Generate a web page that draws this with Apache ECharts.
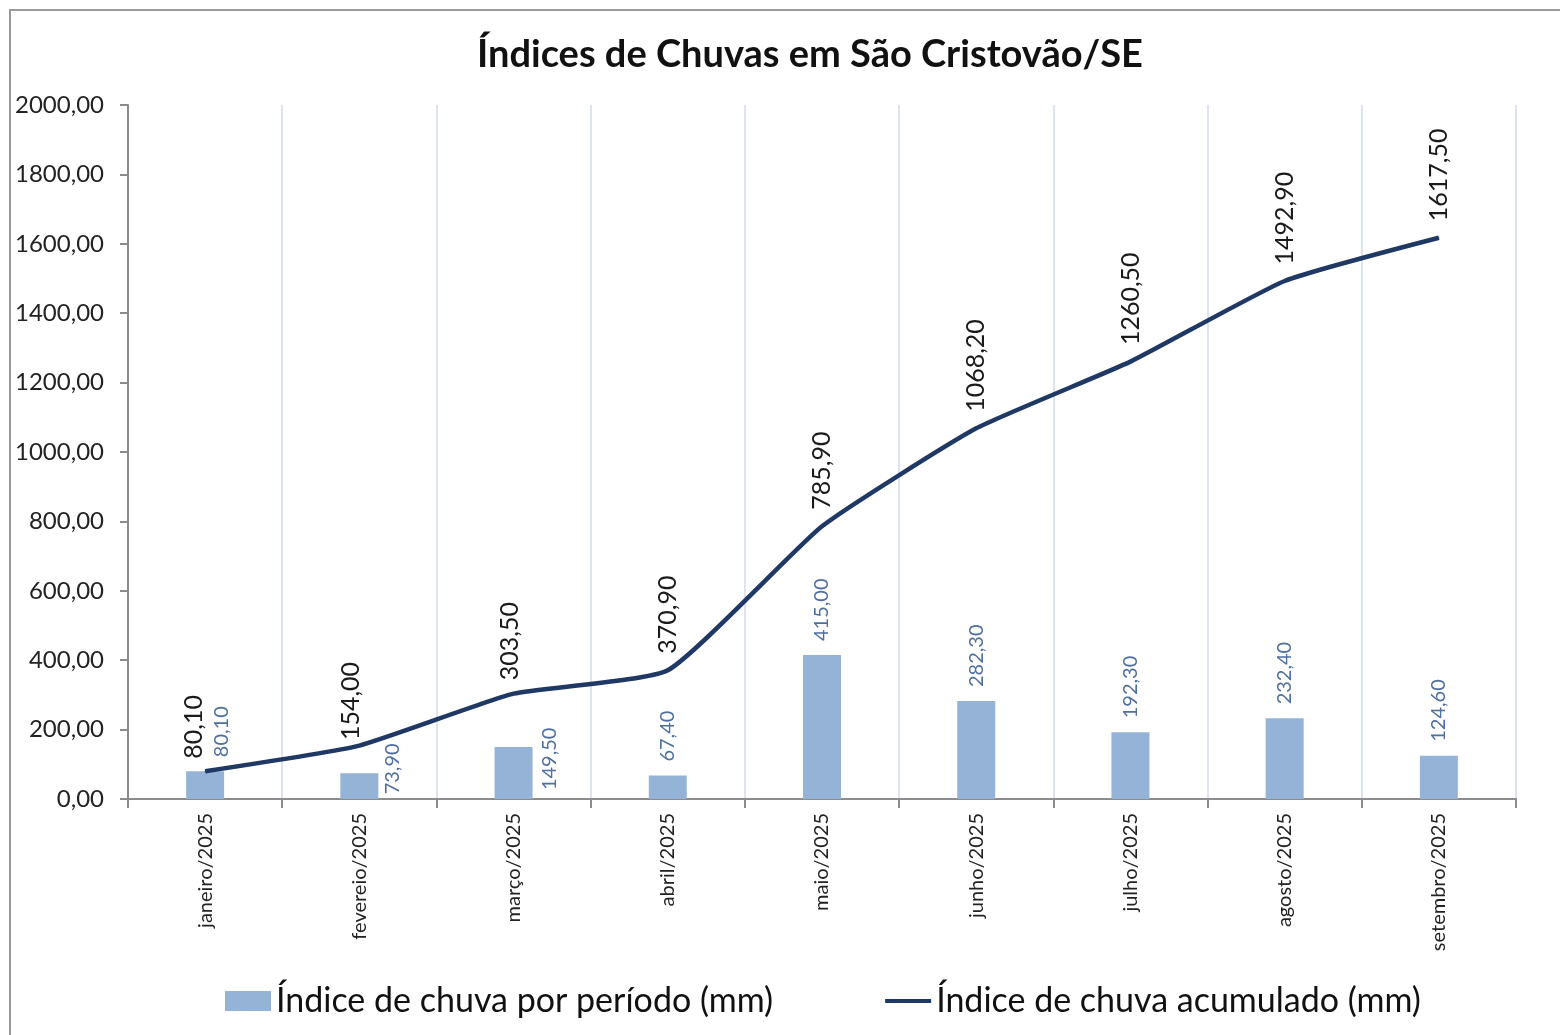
<!DOCTYPE html>
<html>
<head>
<meta charset="utf-8">
<script src="https://cdn.jsdelivr.net/npm/echarts@6/dist/echarts.min.js"></script>
<style>
  html, body { margin: 0; padding: 0; background: #fff; }
  #chart { width: 1560px; height: 1035px; }
</style>
</head>
<body>
<div id="chart"></div>
<script>
// dados
const meses = ['janeiro/2025', 'fevereio/2025', 'março/2025', 'abril/2025', 'maio/2025',
  'junho/2025', 'julho/2025', 'agosto/2025', 'setembro/2025'];
const chuvaPeriodo = [80.10, 73.90, 149.50, 67.40, 415.00, 282.30, 192.30, 232.40, 124.60];
const chuvaAcumulada = [80.10, 154.00, 303.50, 370.90, 785.90, 1068.20, 1260.50, 1492.90, 1617.50];

const fonte = 'Lato, "Open Sans", sans-serif';
const fmt = v => Number(v).toFixed(2).replace('.', ',');

// rótulos deslocados (como o Excel fez nos primeiros meses, para não sobrepor)
// offset é no sistema do texto girado 90°: [-dy, dx] em coordenadas de tela
const ajusteBarra = { 0: [0, 16], 1: [-35, 33], 2: [-57, 36] };
const ajusteLinha = { 0: [-4, -11], 1: [-11, -8], 2: [-3, -4] };

const myChart = echarts.init(document.getElementById('chart'));

const option = {
  backgroundColor: '#fff',
  textStyle: { fontFamily: fonte },
  title: {
    text: 'Índices de Chuvas em São Cristovão/SE',
    left: 472,
    top: 31,
    textStyle: { fontSize: 38, fontWeight: 'bold', color: '#111', fontFamily: fonte }
  },
  grid: { left: 128, right: 44, top: 105, bottom: 236 },
  legend: {
    bottom: 12,
    left: 220,
    itemGap: 112,
    itemWidth: 46,
    itemHeight: 20,
    textStyle: { fontSize: 34, color: '#111', fontFamily: fonte },
    data: [
      { name: 'Índice de chuva por período (mm)', icon: 'rect' },
      { name: 'Índice de chuva acumulado (mm)', icon: 'path://M0,0 L46,0 L46,4 L0,4 Z' }
    ]
  },
  xAxis: {
    type: 'category',
    data: meses,
    boundaryGap: true,
    axisLine: { lineStyle: { color: '#8c8c8c', width: 2 } },
    axisTick: { show: true, length: 9, lineStyle: { color: '#8c8c8c', width: 2 } },
    splitLine: { show: true, lineStyle: { color: '#d3dbe8', width: 1.5 } },
    axisLabel: { rotate: 90, fontSize: 20, color: '#222', margin: 14 }
  },
  yAxis: {
    type: 'value',
    min: 0,
    max: 2000,
    interval: 200,
    axisLine: { show: true, lineStyle: { color: '#8c8c8c', width: 2 } },
    axisTick: { show: true, length: 8, lineStyle: { color: '#8c8c8c', width: 2 } },
    splitLine: { show: false },
    axisLabel: { fontSize: 24, color: '#222', margin: 24, formatter: fmt }
  },
  series: [
    {
      name: 'Índice de chuva por período (mm)',
      type: 'bar',
      data: chuvaPeriodo.map((v, i) => ajusteBarra[i] ? { value: v, label: { offset: ajusteBarra[i] } } : v),
      barWidth: 38,
      itemStyle: { color: '#95b3d7' },
      label: {
        show: true,
        position: 'top',
        rotate: 90,
        align: 'left',
        verticalAlign: 'middle',
        distance: 14,
        fontSize: 20,
        color: '#4f6f9f',
        formatter: p => fmt(p.value)
      }
    },
    {
      name: 'Índice de chuva acumulado (mm)',
      type: 'line',
      data: chuvaAcumulada.map((v, i) => ajusteLinha[i] ? { value: v, label: { offset: ajusteLinha[i] } } : v),
      smooth: 0.15,
      symbol: 'circle',
      symbolSize: 1,
      showSymbol: true,
      lineStyle: { color: '#1f3864', width: 4.5 },
      itemStyle: { color: '#1f3864' },
      label: {
        show: true,
        position: 'top',
        rotate: 90,
        align: 'left',
        verticalAlign: 'middle',
        distance: 16,
        fontSize: 25,
        color: '#1a1a1a',
        formatter: p => fmt(p.value)
      }
    }
  ],
  graphic: [
    {
      type: 'rect',
      shape: { x: 10, y: 10, width: 1700, height: 1200 },
      style: { fill: 'none', stroke: '#9a9a9a', lineWidth: 2 },
      silent: true
    }
  ]
};

myChart.setOption(option);
</script>
</body>
</html>
